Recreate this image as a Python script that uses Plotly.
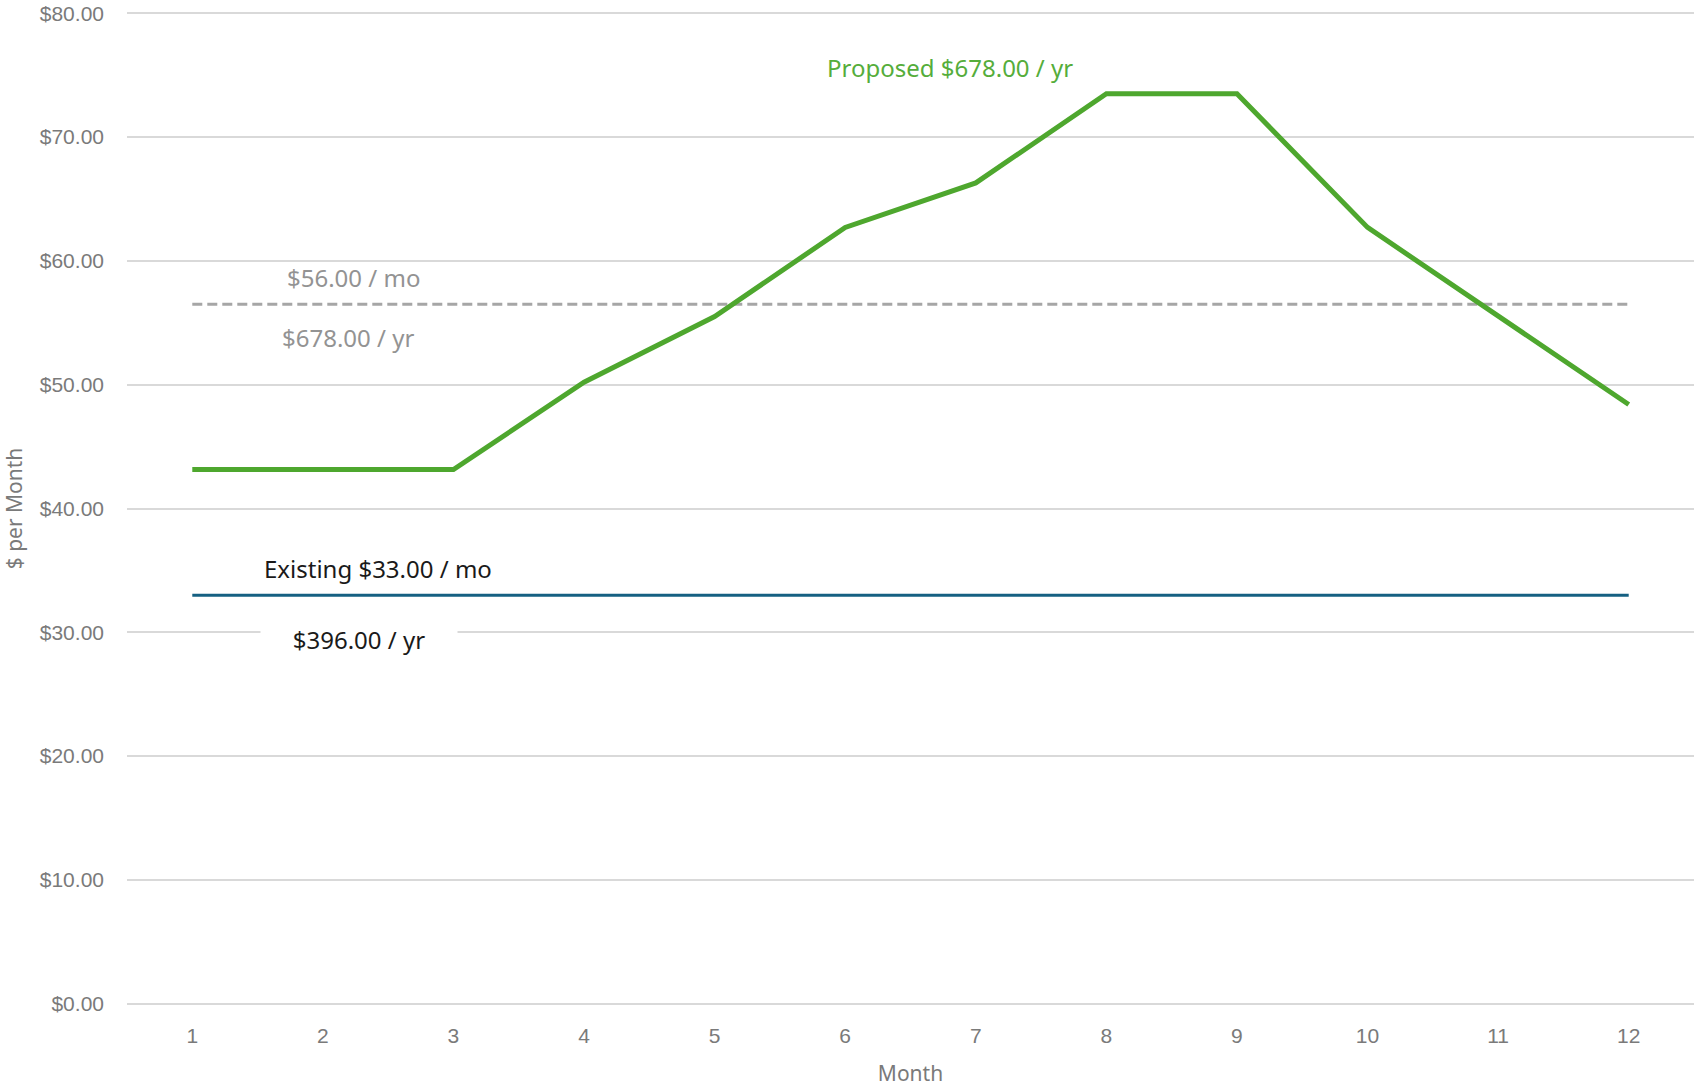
import plotly.graph_objects as go

months = list(range(1, 13))
proposed = [43.15, 43.15, 43.15, 50.2, 55.5, 62.7, 66.3, 73.5, 73.5, 62.7, 55.6, 48.4]
proposed_avg = [56.5] * 12
existing = [33.0] * 12
y_ticks = [0, 10, 20, 30, 40, 50, 60, 70, 80]
y_tick_text = ["$0.00", "$10.00", "$20.00", "$30.00", "$40.00", "$50.00", "$60.00", "$70.00", "$80.00"]

GREEN = "#4EA72E"
BLUE = "#156082"
DGREY = "#A6A6A6"
ANN_FONT = "Noto Sans"

fig = go.Figure()
fig.add_trace(go.Scatter(x=months, y=existing, mode="lines",
                         line=dict(color=BLUE, width=3), hoverinfo="skip"))
fig.add_trace(go.Scatter(x=months, y=proposed_avg, mode="lines",
                         line=dict(color=DGREY, width=3, dash="10px,5px"), hoverinfo="skip"))
fig.add_trace(go.Scatter(x=months, y=proposed, mode="lines",
                         line=dict(color=GREEN, width=5), hoverinfo="skip"))

anns = [
    dict(x=2.234, y=proposed_avg[0], yshift=27, text="$56.00 / mo", color="#939393", bg=None),
    dict(x=2.19, y=proposed_avg[0], yshift=-33, text="$678.00 / yr", color="#939393", bg=None),
    dict(x=2.425, y=existing[0], yshift=27, text="Existing $33.00 / mo", color="#1a1a1a", bg=None),
    dict(x=2.276, y=existing[0], yshift=-44, text="$396.00 / yr", color="#1a1a1a", bg="white"),
    dict(x=6.8, y=75.6, yshift=0, text="Proposed $678.00 / yr", color="#55AD3B", bg=None),
]
for a in anns:
    kw = dict(x=a["x"], y=a["y"], yshift=a["yshift"], text=a["text"], showarrow=False,
              xanchor="center", yanchor="middle",
              font=dict(family=ANN_FONT, size=24, color=a["color"]))
    if a["bg"]:
        kw.update(bgcolor=a["bg"], width=196, borderpad=0)
    fig.add_annotation(**kw)

fig.update_layout(
    width=1694, height=1088,
    margin=dict(l=127, r=0, t=12, b=83),
    plot_bgcolor="white", paper_bgcolor="white",
    showlegend=False,
    font=dict(family="Liberation Sans", size=21, color="#7a7a7a"),
)
fig.update_xaxes(range=[0.5, 12.5], tickmode="array", tickvals=months,
                 ticktext=[str(m) for m in months], showgrid=False, zeroline=False,
                 showline=False, ticks="", ticklabelstandoff=16,
                 title=dict(text="Month", font=dict(family=ANN_FONT, size=21, color="#7a7a7a"), standoff=20))
fig.update_yaxes(range=[-0.1, 80.1], tickmode="array", tickvals=y_ticks, ticktext=y_tick_text,
                 showgrid=True, gridcolor="#D9D9D9", gridwidth=2, zeroline=False,
                 showline=False, ticks="", ticklabelstandoff=22,
                 title=dict(text="$ per Month", font=dict(family=ANN_FONT, size=21, color="#7a7a7a"), standoff=12))

fig.write_html("out.html", config={"displayModeBar": False},
               post_script="document.body.style.margin='0';")
